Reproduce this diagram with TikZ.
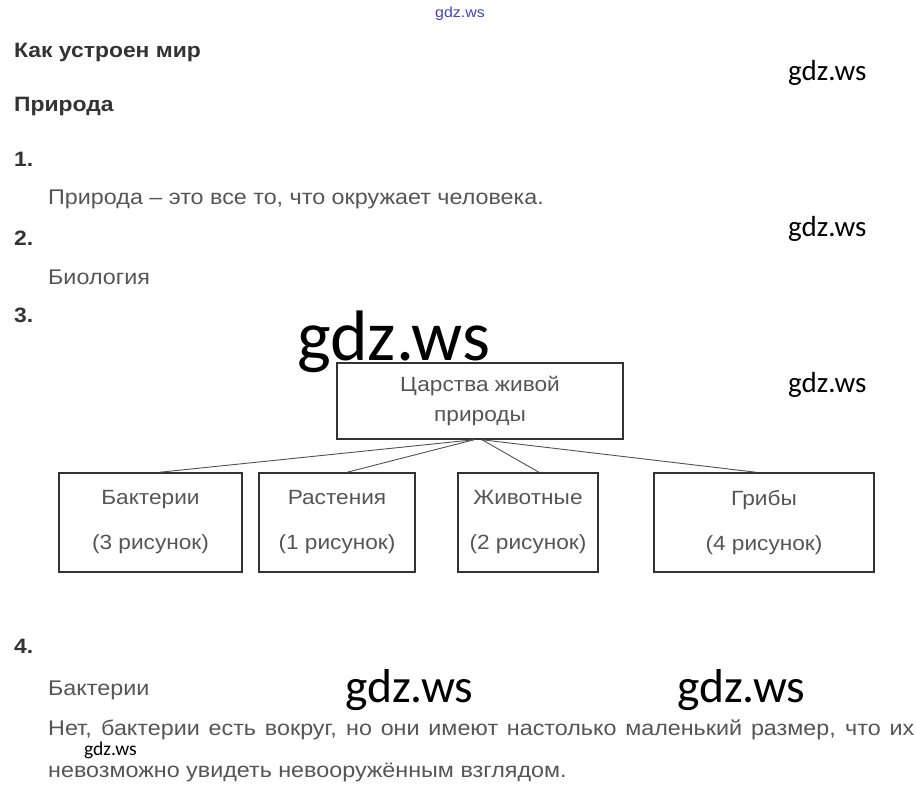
\documentclass[tikz,border=0pt]{standalone}
\usepackage{fontspec}
\setmainfont{Liberation Sans}[FakeStretch=1.1]
\newfontfamily\wmfont{Carlito}
\usepackage{xcolor}
\definecolor{headgray}{HTML}{333333}
\definecolor{textgray}{HTML}{555555}
\definecolor{linkblue}{HTML}{4040D0}

\begin{document}
\begin{tikzpicture}[x=1pt,y=-1pt,
  head/.style={anchor=base west,inner sep=0,text=headgray,font=\fontsize{20.8}{24}\selectfont\bfseries},
  txt/.style={anchor=base west,inner sep=0,text=textgray,font=\fontsize{21.2}{24}\selectfont},
  wm/.style={anchor=base west,inner sep=0,text=black,font=\wmfont\fontsize{#1}{#1}\selectfont},
  kbox/.style={draw=headgray,line width=1.5pt,inner sep=0,align=center,text=textgray,font=\fontsize{20.6}{24}\selectfont},
  link/.style={draw=headgray!85,line width=0.9pt}]
\useasboundingbox (0,0) rectangle (916,798);
\node[anchor=base,inner sep=0,text=linkblue,font=\fontsize{14.5}{14.5}\selectfont] (toplink) at (460,17) {gdz.ws};
% headings and answers
\node[head] (title) at (14,57) {Как устроен мир};
\node[head] (part) at (14,111) {Природа};
\node[head] (q1) at (14,166) {1.};
\node[txt] (a1) at (48,204) {Природа – это все то, что окружает человека.};
\node[head] (q2) at (14,245) {2.};
\node[txt] (a2) at (48,284) {Биология};
\node[head] (q3) at (14,322) {3.};
\node[head] (q4) at (14,653) {4.};
\node[txt] (a4) at (48,695) {Бактерии};
\node[txt] (a4a) at (48,735) {\makebox[866pt][s]{Нет, бактерии есть вокруг, но они имеют настолько маленький размер, что их}};
\node[txt] (a4b) at (48,777) {невозможно увидеть невооружённым взглядом.};
% watermarks
\node[wm=29] (wmA) at (788,80) {gdz.ws};
\node[wm=29] (wmB) at (788,236) {gdz.ws};
\node[wm=71.5] (wmC) at (297,360) {gdz.ws};
\node[wm=29] (wmD) at (788,392) {gdz.ws};
\node[wm=47.5] (wmE) at (345,702) {gdz.ws};
\node[wm=47.5] (wmF) at (677,702) {gdz.ws};
\node[wm=19.5] (wmG) at (84,755) {gdz.ws};
% kingdoms
\node[kbox,minimum width=286pt,minimum height=76pt] (root) at (480,401) {Царства живой\\[6pt]природы};
\foreach \kname/\cx/\bw/\kind/\num in {bact/150.5/183/Бактерии/3,plant/337/156/Растения/1,anim/528/140/Животные/2,fungi/764/220/Грибы/4}
  {  \node[kbox,minimum width=\bw pt,minimum height=99pt] (\kname) at (\cx,522.5) {\kind\\[21pt](\num~рисунок)};}
\foreach \kname/\sx/\ex in {bact/-6/9,plant/-6/10,anim/2/11,fungi/2/-8}
  {  \draw[link] ([xshift=\sx pt]root.south) -- ([xshift=\ex pt]\kname.north);}
\end{tikzpicture}
\end{document}
